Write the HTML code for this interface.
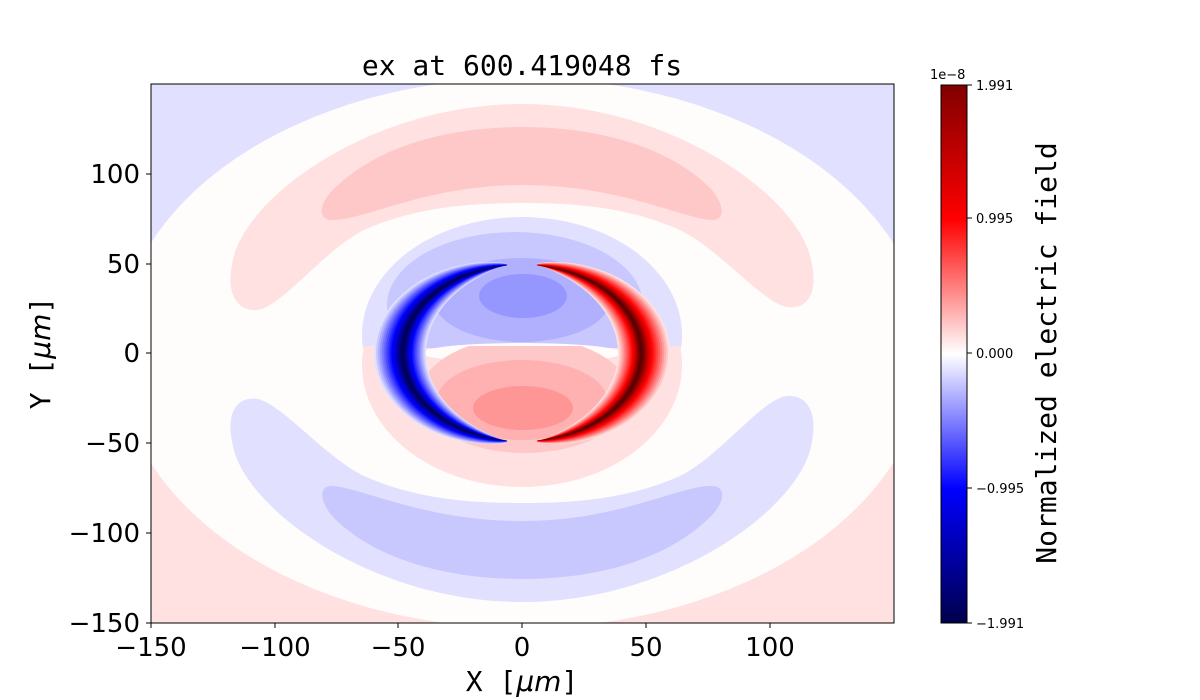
<!DOCTYPE html>
<html><head><meta charset="utf-8"><style>
body{margin:0;background:#fff;}
svg{display:block;}
text{font-family:"DejaVu Sans","Liberation Sans",sans-serif;}
.mono{font-family:"DejaVu Sans Mono","Liberation Mono",monospace;}
</style></head><body>
<svg id="s" width="1200" height="700" viewBox="0 0 1200 700" xmlns="http://www.w3.org/2000/svg">
<defs>
<clipPath id="pc"><rect x="151" y="84" width="743" height="539"/></clipPath>
<clipPath id="top"><rect x="151" y="84" width="743" height="264"/></clipPath>
<clipPath id="bot"><rect x="151" y="346" width="743" height="280"/></clipPath>
<linearGradient id="cb" x1="0" y1="1" x2="0" y2="0">
<stop offset="0" stop-color="#00004d"/><stop offset="0.25" stop-color="#0000ff"/>
<stop offset="0.5" stop-color="#ffffff"/><stop offset="0.75" stop-color="#ff0000"/>
<stop offset="1" stop-color="#800000"/></linearGradient>
</defs>
<g clip-path="url(#pc)" id="plot">
<rect x="151" y="84" width="743" height="270" fill="#e1e1ff"/>
<rect x="151" y="353" width="743" height="270" fill="#ffe1e1"/>
<ellipse cx="522" cy="353" rx="405" ry="275" fill="#fffcfc"/>
<path d="M258,310 C238,312 226,295 232,265 C240,200 370,104 522,104 C674,104 804,200 812,265 C818,295 806,310 786,307 C760,300 720,250 680,230 C630,208 580,203 522,203 C464,203 414,208 364,230 C324,250 284,305 258,310 Z" fill="#ffe1e1"/>
<path d="M330,220 C318,218 320,205 330,193 C370,150 440,127 522,127 C604,127 674,150 712,190 C724,205 726,220 712,220 C680,218 620,185 522,185 C424,185 362,222 330,220 Z" fill="#ffc8c8"/>
<g transform="rotate(180 522 353)">
<path d="M258,310 C238,312 226,295 232,265 C240,200 370,104 522,104 C674,104 804,200 812,265 C818,295 806,310 786,307 C760,300 720,250 680,230 C630,208 580,203 522,203 C464,203 414,208 364,230 C324,250 284,305 258,310 Z" fill="#e1e1ff"/>
<path d="M330,220 C318,218 320,205 330,193 C370,150 440,127 522,127 C604,127 674,150 712,190 C724,205 726,220 712,220 C680,218 620,185 522,185 C424,185 362,222 330,220 Z" fill="#c8c8ff"/>
</g>
<ellipse cx="522" cy="335" rx="160" ry="118" fill="#e1e1ff" clip-path="url(#top)"/>
<ellipse cx="522" cy="365" rx="160" ry="122" fill="#ffe1e1" clip-path="url(#bot)"/>
<ellipse cx="515" cy="305" rx="128" ry="73" fill="#c8c8ff" clip-path="url(#top)"/>
<ellipse cx="522" cy="300" rx="88" ry="42" fill="#b0b0ff"/>
<ellipse cx="523" cy="296" rx="44" ry="22" fill="#9696ff"/>
<ellipse cx="522" cy="353" rx="100" ry="10" fill="#fffcfc"/>
<ellipse cx="525" cy="395" rx="105" ry="58" fill="#ffc8c8" clip-path="url(#bot)"/>
<ellipse cx="522" cy="400" rx="85" ry="40" fill="#ffb0b0"/>
<ellipse cx="523" cy="408" rx="50" ry="22" fill="#ff9696"/>
<g id="cres"></g>
</g>
<rect x="151" y="84" width="743" height="539" fill="none" stroke="#000" stroke-width="1"/>
<g id="ticks" stroke="#000" stroke-width="1"></g>
<text x="522" y="75" text-anchor="middle" font-size="28" class="mono">ex at 600.419048 fs</text>
<g font-size="26" text-anchor="middle">
<text x="151" y="656">−150</text><text x="275" y="656">−100</text><text x="398" y="656">−50</text>
<text x="522" y="656">0</text><text x="646" y="656">50</text><text x="770" y="656">100</text>
</g>
<g font-size="26" text-anchor="end">
<text x="140" y="183">100</text><text x="140" y="273">50</text><text x="140" y="362">0</text>
<text x="140" y="452">−50</text><text x="140" y="542">−100</text><text x="140" y="632">−150</text>
</g>
<text x="522" y="691" text-anchor="middle" font-size="28"><tspan class="mono">X [</tspan><tspan font-style="italic">μm</tspan><tspan class="mono">]</tspan></text>
<text transform="translate(50 353) rotate(-90)" text-anchor="middle" font-size="28"><tspan class="mono">Y [</tspan><tspan font-style="italic">μm</tspan><tspan class="mono">]</tspan></text>
<rect x="941" y="85" width="26" height="538" fill="url(#cb)" stroke="#000" stroke-width="1"/>
<g stroke="#000"><line x1="967" y1="85" x2="972" y2="85"/><line x1="967" y1="218" x2="972" y2="218"/><line x1="967" y1="353" x2="972" y2="353"/><line x1="967" y1="488" x2="972" y2="488"/><line x1="967" y1="623" x2="972" y2="623"/></g>
<g font-size="13"><text x="976" y="90">1.991</text><text x="976" y="223">0.995</text><text x="976" y="358">0.000</text><text x="976" y="493">−0.995</text><text x="976" y="628">−1.991</text></g>
<text x="930" y="79" font-size="13">1e−8</text>
<text transform="translate(1056 353) rotate(-90)" text-anchor="middle" font-size="28" class="mono">Normalized electric field</text>
</svg>
<script>
(function(){
var ns="http://www.w3.org/2000/svg";
var g=document.getElementById("cres");
var blues=["#e1e1ff","#c8c8ff","#b0b0ff","#9696ff","#7c7cff","#6464ff","#4a4aff","#3232ff","#1818ff","#0000ff","#0000e6","#0000c8","#0000aa","#00008c","#000070","#000055"];
var reds=["#ffe1e1","#ffc8c8","#ffb0b0","#ff9696","#ff7c7c","#ff6464","#ff4a4a","#ff3232","#ff1818","#ff0000","#e60000","#c80000","#aa0000","#8c0000","#700000","#580000"];
var cx=522,cy=353,a=122,b=90,L=16,H=26;
function cres(cols,t0,t1){
 for(var i=0;i<L;i++){
  var h=H*Math.pow(1-i/L,1.1);var off=-3*(i/L);
  var out=[],inn=[];
  for(var k=0;k<=60;k++){
   var t=k/60;var th=(t0+(t1-t0)*t)*Math.PI/180;
   var w=h*Math.pow(Math.sin(Math.PI*t),0.8);
   var c=Math.cos(th),s=Math.sin(th);
   out.push([cx+(a+off+w*1.0)*c,cy-(b+off*0.7+w*0.75)*s]);
   inn.push([cx+(a+off-w*1.0)*c,cy-(b+off*0.7-w*0.8)*s]);
  }
  var d="M"+out.map(function(p){return p[0].toFixed(1)+","+p[1].toFixed(1)}).join(" L");
  d+=" L"+inn.reverse().map(function(p){return p[0].toFixed(1)+","+p[1].toFixed(1)}).join(" L")+"Z";
  var p=document.createElementNS(ns,"path");p.setAttribute("d",d);p.setAttribute("fill",cols[i]);g.appendChild(p);
 }
}
cres(blues,97,263);
cres(reds,-83,83);
var tk=document.getElementById("ticks");
[151,275,398,522,646,770].forEach(function(x){var l=document.createElementNS(ns,"line");l.setAttribute("x1",x);l.setAttribute("x2",x);l.setAttribute("y1",623);l.setAttribute("y2",628);tk.appendChild(l);});
[174,264,353,443,533,623].forEach(function(y){var l=document.createElementNS(ns,"line");l.setAttribute("x1",146);l.setAttribute("x2",151);l.setAttribute("y1",y);l.setAttribute("y2",y);tk.appendChild(l);});
})();
</script>
</body></html>
